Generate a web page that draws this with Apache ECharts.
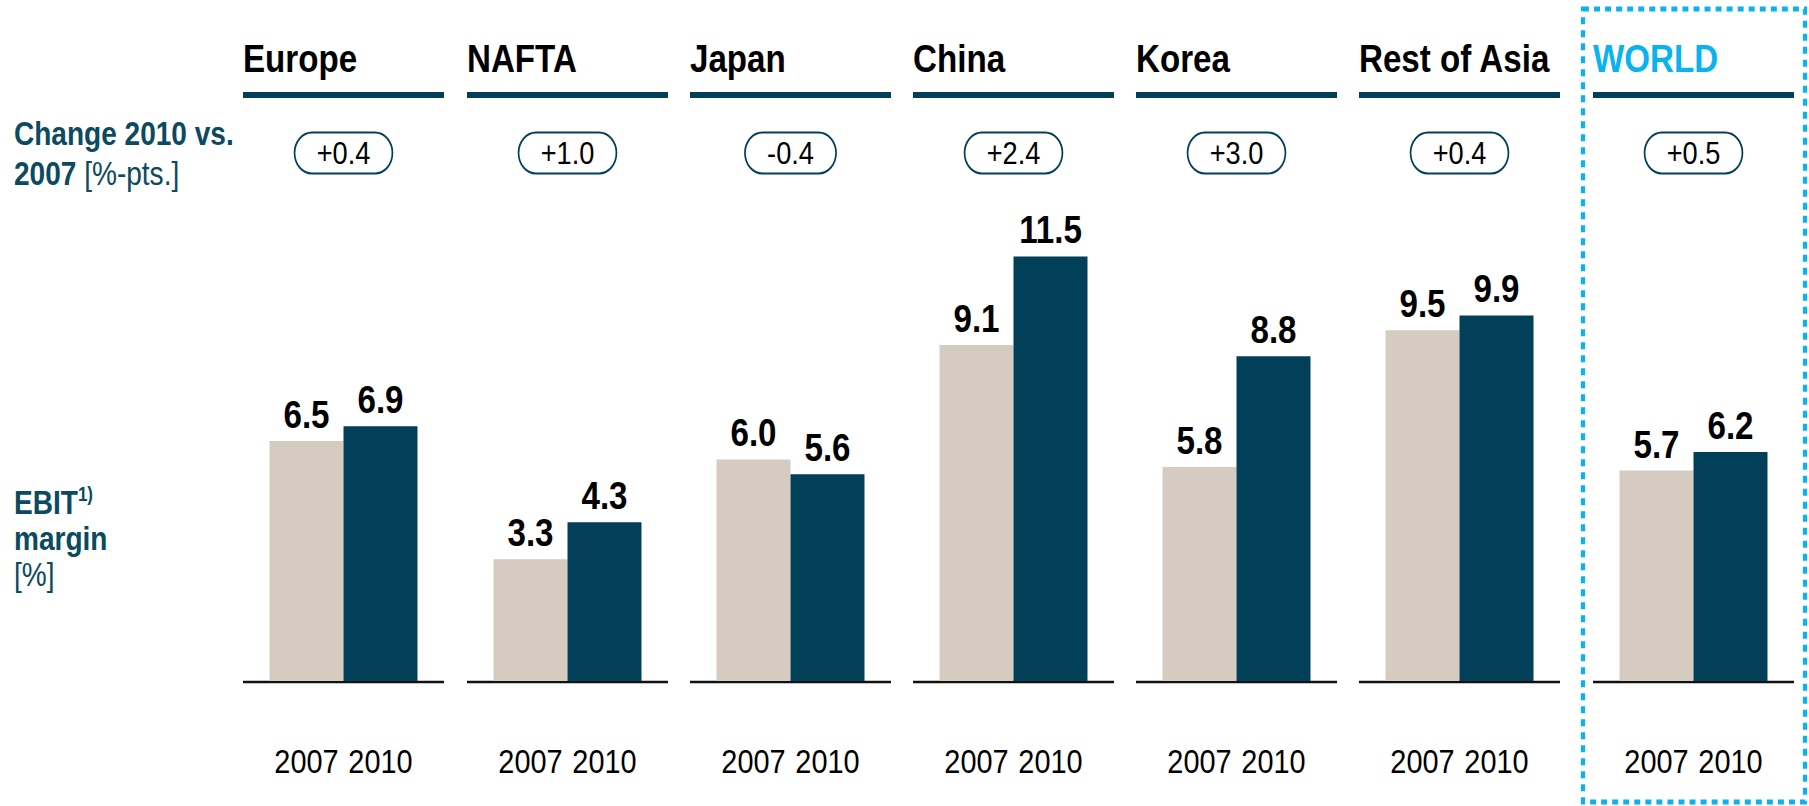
<!DOCTYPE html>
<html>
<head>
<meta charset="utf-8">
<script src="https://cdn.jsdelivr.net/npm/echarts@6/dist/echarts.min.js"></script>
<style>
  html, body { margin: 0; padding: 0; background: #fff; overflow: hidden; }
  #wrap { width: 1809px; height: 806px; overflow: hidden; }
  /* no narrow font is installed, so the whole drawing is squeezed like Arial Narrow */
  #chart { height: 806px; transform-origin: 0 0; }
</style>
</head>
<body>
<div id="wrap"><div id="chart"></div></div>
<script>
// Data
const regions = ['Europe', 'NAFTA', 'Japan', 'China', 'Korea', 'Rest of Asia', 'WORLD']
const years = ['2007', '2010']
const margin2007 = [6.5, 3.3, 6.0, 9.1, 5.8, 9.5, 5.7]
const margin2010 = [6.9, 4.3, 5.6, 11.5, 8.8, 9.9, 6.2]
const changePts = [0.4, 1.0, -0.4, 2.4, 3.0, 0.4, 0.5]

// Look
const FONT = '"Liberation Sans", Arial, sans-serif'
const BEIGE = '#D5CBC1'
const DARK = '#023F58'
const TEAL = '#0B4A5F'
const SKY = '#0BB2F0'

// horizontal squeeze; layout below is in screen px, sx() maps into the squeezed space
const SQUEEZE = 0.85
const sx = (x) => x / SQUEEZE

// Panel layout (left edge of each column on screen, px)
const PANEL_X = [243, 467, 690, 913, 1136, 1359, 1593]
const PANEL_W = 201
const BAR_W = 74
const BASE_Y = 681
const PLOT_TOP = 238
const Y_MAX = 12

const fmtChange = (v) => (v > 0 ? '+' : v < 0 ? '-' : '') + Math.abs(v).toFixed(1)

const el = document.getElementById('chart')
el.style.width = Math.round(sx(1809)) + 'px'
el.style.transform = `scaleX(${SQUEEZE})`

const grids = []
const xAxes = []
const yAxes = []
const series = []
const graphics = []

regions.forEach((name, i) => {
  const x0 = PANEL_X[i]
  const cx = x0 + PANEL_W / 2

  grids.push({ left: sx(cx - BAR_W), width: sx(BAR_W * 2), top: PLOT_TOP, height: BASE_Y - PLOT_TOP })
  xAxes.push({
    gridIndex: i,
    type: 'category',
    data: years,
    axisLine: { show: false },
    axisTick: { show: false },
    axisLabel: { interval: 0, margin: 63, fontFamily: FONT, fontSize: 34, color: '#000' },
  })
  yAxes.push({ gridIndex: i, type: 'value', min: 0, max: Y_MAX, show: false })
  series.push({
    type: 'bar',
    xAxisIndex: i,
    yAxisIndex: i,
    barWidth: '100%',
    silent: true,
    data: [
      { value: margin2007[i], itemStyle: { color: BEIGE } },
      { value: margin2010[i], itemStyle: { color: DARK } },
    ],
    label: {
      show: true,
      position: 'top',
      distance: 7,
      formatter: (p) => p.value.toFixed(1),
      fontFamily: FONT,
      fontWeight: 'bold',
      fontSize: 39,
      color: '#000',
    },
  })

  // region title + rule under it
  graphics.push({
    type: 'text',
    x: sx(x0),
    y: 59,
    style: {
      text: name,
      font: `bold 39px ${FONT}`,
      fill: name === 'WORLD' ? SKY : '#000',
      verticalAlign: 'middle',
    },
  })
  graphics.push({
    type: 'rect',
    shape: { x: sx(x0), y: 92, width: sx(PANEL_W), height: 6 },
    style: { fill: DARK },
  })

  // change pill
  graphics.push({
    type: 'text',
    x: sx(cx),
    y: 153,
    style: {
      text: fmtChange(changePts[i]),
      font: `32px ${FONT}`,
      fill: '#000',
      align: 'center',
      verticalAlign: 'middle',
      padding: [4, 25, 3, 25],
      borderColor: DARK,
      borderWidth: 2,
      borderRadius: 22,
      backgroundColor: '#fff',
    },
  })

  // baseline
  graphics.push({
    type: 'line',
    shape: { x1: sx(x0), y1: BASE_Y + 1, x2: sx(x0 + PANEL_W), y2: BASE_Y + 1 },
    style: { stroke: '#111', lineWidth: 2.5 },
  })
})

// row labels on the left
graphics.push({
  type: 'text',
  x: sx(14),
  y: 153,
  style: {
    text: '{b|Change 2010 vs.}\n{b|2007}{r| [%-pts.]}',
    verticalAlign: 'middle',
    rich: {
      b: { font: `bold 33px ${FONT}`, fill: TEAL, lineHeight: 40 },
      r: { font: `33px ${FONT}`, fill: TEAL, lineHeight: 40 },
    },
  },
})
graphics.push({
  type: 'text',
  x: sx(14),
  y: 538,
  style: {
    text: '{b|EBIT}{s|1)}\n{b|margin}\n{r|[%]}',
    verticalAlign: 'middle',
    rich: {
      b: { font: `bold 33px ${FONT}`, fill: TEAL, lineHeight: 36 },
      s: { font: `bold 20px ${FONT}`, fill: TEAL, lineHeight: 24, verticalAlign: 'top' },
      r: { font: `33px ${FONT}`, fill: TEAL, lineHeight: 36 },
    },
  },
})

// dotted frame around WORLD
graphics.push({
  type: 'rect',
  shape: { x: sx(1583), y: 9, width: sx(222), height: 793 },
  style: { fill: null, stroke: SKY, lineWidth: 5, lineDash: [7, 6] },
})

const chart = echarts.init(el, null, { renderer: 'svg' })
chart.setOption({
  backgroundColor: '#fff',
  animation: false,
  grid: grids,
  xAxis: xAxes,
  yAxis: yAxes,
  series: series,
  graphic: graphics,
})
</script>
</body>
</html>
